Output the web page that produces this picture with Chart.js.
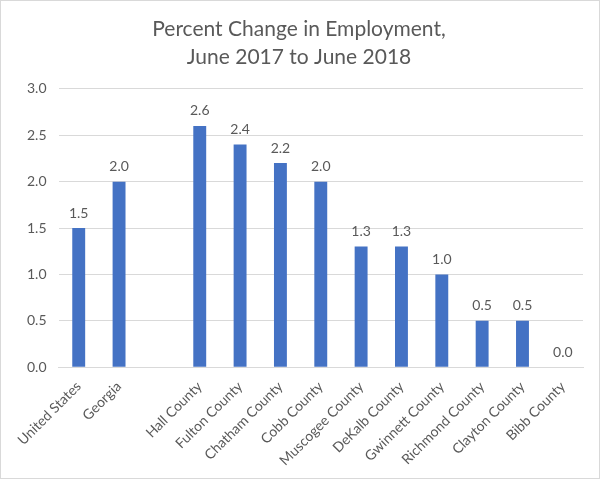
<!DOCTYPE html>
<html>
<head>
<meta charset="utf-8">
<script src="https://cdn.jsdelivr.net/npm/chart.js@4/dist/chart.umd.min.js"></script>
<style>
  html, body { margin:0; padding:0; background:#fff; }
  #wrap { position:relative; width:598px; height:477px; border:1px solid #d9d9d9; }
</style>
</head>
<body>
<div id="wrap"><canvas id="empChart"></canvas></div>
<script>
const AREAS = ["United States","Georgia","","Hall County","Fulton County","Chatham County","Cobb County",
  "Muscogee County","DeKalb County","Gwinnett County","Richmond County","Clayton County","Bibb County"];
const CHANGE = [1.5, 2.0, null, 2.6, 2.4, 2.2, 2.0, 1.3, 1.3, 1.0, 0.5, 0.5, 0.0];
const Y_TICKS = [0, 0.5, 1.0, 1.5, 2.0, 2.5, 3.0];

const TEXT = "#595959";
const FONT = "Lato, 'Open Sans', sans-serif";

// value labels above the bars
const barLabels = {
  id: "barLabels",
  afterDatasetsDraw(chart){
    const ctx = chart.ctx;
    const meta = chart.getDatasetMeta(0);
    ctx.save();
    ctx.fillStyle = TEXT;
    ctx.font = "14px " + FONT;
    ctx.textAlign = "center";
    ctx.textBaseline = "bottom";
    meta.data.forEach((bar, i) => {
      const v = CHANGE[i];
      if (v === null) return;
      ctx.fillText(v.toFixed(1), bar.x, bar.y - 8);
    });
    ctx.restore();
  }
};

new Chart(document.getElementById("empChart"), {
  type: "bar",
  data: {
    labels: AREAS,
    datasets: [{ data: CHANGE, backgroundColor: "#4472C4", barPercentage: 0.32, categoryPercentage: 1 }]
  },
  options: {
    responsive: true,
    maintainAspectRatio: false,
    animation: false,
    layout: { padding: { left: 14, right: 16, top: 0, bottom: 6 } },
    plugins: {
      legend: { display: false },
      tooltip: { enabled: false },
      title: {
        display: true,
        text: ["Percent Change in Employment,", "June 2017 to June 2018"],
        color: TEXT,
        font: { family: FONT, size: 21, weight: "normal", lineHeight: 1.33 },
        padding: { top: 14, bottom: 18 }
      }
    },
    scales: {
      x: {
        grid: { display: false },
        border: { color: "#d9d9d9" },
        ticks: { color: TEXT, font: { family: FONT, size: 14 }, minRotation: 45, maxRotation: 45, autoSkip: false }
      },
      y: {
        min: 0, max: 3,
        afterBuildTicks(axis){ axis.ticks = Y_TICKS.map(v => ({ value: v })); },
        grid: { color: "#d9d9d9", drawTicks: false },
        border: { display: false },
        ticks: { color: TEXT, font: { family: FONT, size: 14 }, padding: 12, callback: v => Number(v).toFixed(1) }
      }
    }
  },
  plugins: [barLabels]
});
</script>
</body>
</html>
